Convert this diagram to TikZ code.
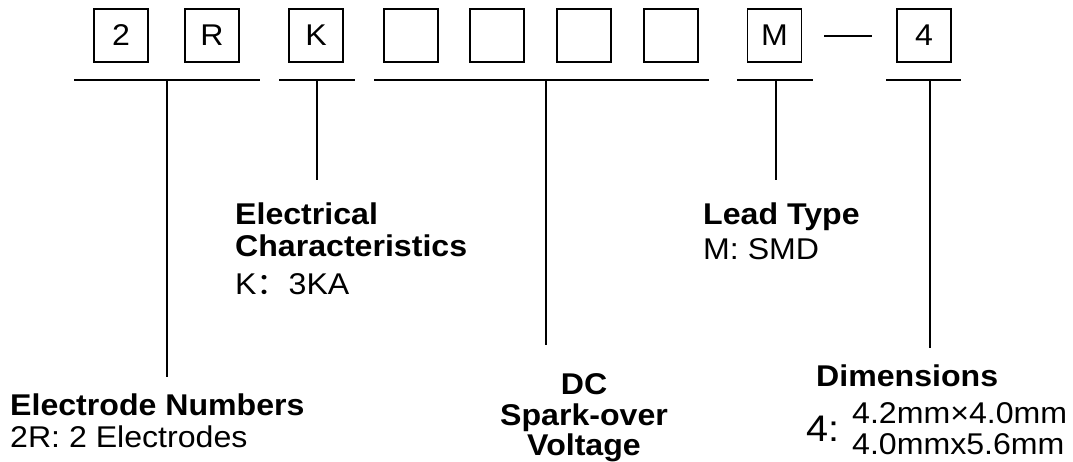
\documentclass[tikz,border=0pt]{standalone}
\usepackage{fontspec}
\setmainfont{Liberation Sans}
\newfontfamily\cjk{Noto Sans CJK SC}
\usepackage{graphicx}
\newcommand{\sx}[1]{\scalebox{1.07}[1]{#1}}
\begin{document}
\begin{tikzpicture}[x=1pt,y=-1pt,
  box/.style={draw, line width=1.6pt, minimum width=54pt, minimum height=53pt, inner sep=0pt, font=\fontsize{30}{32}\selectfont},
  bar/.style={line width=2.2pt},
  lbl/.style={anchor=base west, inner sep=0pt, font=\fontsize{30}{32}\selectfont},
  hd/.style={lbl, font=\fontsize{30}{32}\selectfont\bfseries},
  hdc/.style={anchor=base, inner sep=0pt, font=\fontsize{30}{32}\selectfont\bfseries}]
\useasboundingbox (0,0) rectangle (1073,461);
% boxes
\node[box] (b1) at (121,35.5) {\sx{2}};
\node[box] (b2) at (212,35.5) {\sx{R}};
\node[box] (b3) at (316,35.5) {\sx{K}};
\node[box] (b4) at (411,35.5) {};
\node[box] (b5) at (497,35.5) {};
\node[box] (b6) at (584,35.5) {};
\node[box] (b7) at (671,35.5) {};
\node[box] (b8) at (774.5,35.5) {\sx{M}};
\node[box] (b9) at (924,35.5) {\sx{4}};
\coordinate (d1) at (824,36);
\coordinate (d2) at (872,36);
\draw[line width=1.8pt] (d1) -- (d2);
% underlines
\coordinate (u1a) at (74,80);  \coordinate (u1b) at (260,80);
\coordinate (u2a) at (279,80); \coordinate (u2b) at (355,80);
\coordinate (u3a) at (374,80); \coordinate (u3b) at (709,80);
\coordinate (u4a) at (737,80); \coordinate (u4b) at (813,80);
\coordinate (u5a) at (886,80); \coordinate (u5b) at (961,80);
\draw[bar] (u1a) -- (u1b);
\draw[bar] (u2a) -- (u2b);
\draw[bar] (u3a) -- (u3b);
\draw[bar] (u4a) -- (u4b);
\draw[bar] (u5a) -- (u5b);
% ticks
\coordinate (t1a) at (167,80); \coordinate (t1b) at (167,377);
\coordinate (t2a) at (317,80); \coordinate (t2b) at (317,180);
\coordinate (t3a) at (546,80); \coordinate (t3b) at (546,345);
\coordinate (t4a) at (776,80); \coordinate (t4b) at (776,180);
\coordinate (t5a) at (930,80); \coordinate (t5b) at (930,348);
\draw[bar] (t1a) -- (t1b);
\draw[bar] (t2a) -- (t2b);
\draw[bar] (t3a) -- (t3b);
\draw[bar] (t4a) -- (t4b);
\draw[bar] (t5a) -- (t5b);
% labels
\node[hd] (en1) at (10,415) {\sx{Electrode Numbers}};
\node[lbl] (en2) at (10,447) {\sx{2R: 2 Electrodes}};
\node[hd] (ec1) at (235,224) {\sx{Electrical}};
\node[hd] (ec2) at (235,256) {\sx{Characteristics}};
\node[lbl] (ec3) at (235,294) {\sx{K{\cjk ：}3KA}};
\node[hdc] (dc1) at (584,394) {\sx{DC}};
\node[hdc] (dc2) at (584,425) {\sx{Spark-over}};
\node[hdc] (dc3) at (584,455) {\sx{Voltage}};
\node[hd] (lt1) at (703,224) {\sx{Lead Type}};
\node[lbl] (lt2) at (703,259) {\sx{M: SMD}};
\node[hd] (dm1) at (816,386) {\sx{Dimensions}};
\node[lbl, font=\fontsize{37}{39}\selectfont] (dm2) at (806,441) {\sx{4:}};
\node[lbl] (dm3) at (852,423) {\sx{4.2mm×4.0mm}};
\node[lbl] (dm4) at (852,454) {\sx{4.0mmx5.6mm}};
\end{tikzpicture}
\end{document}
